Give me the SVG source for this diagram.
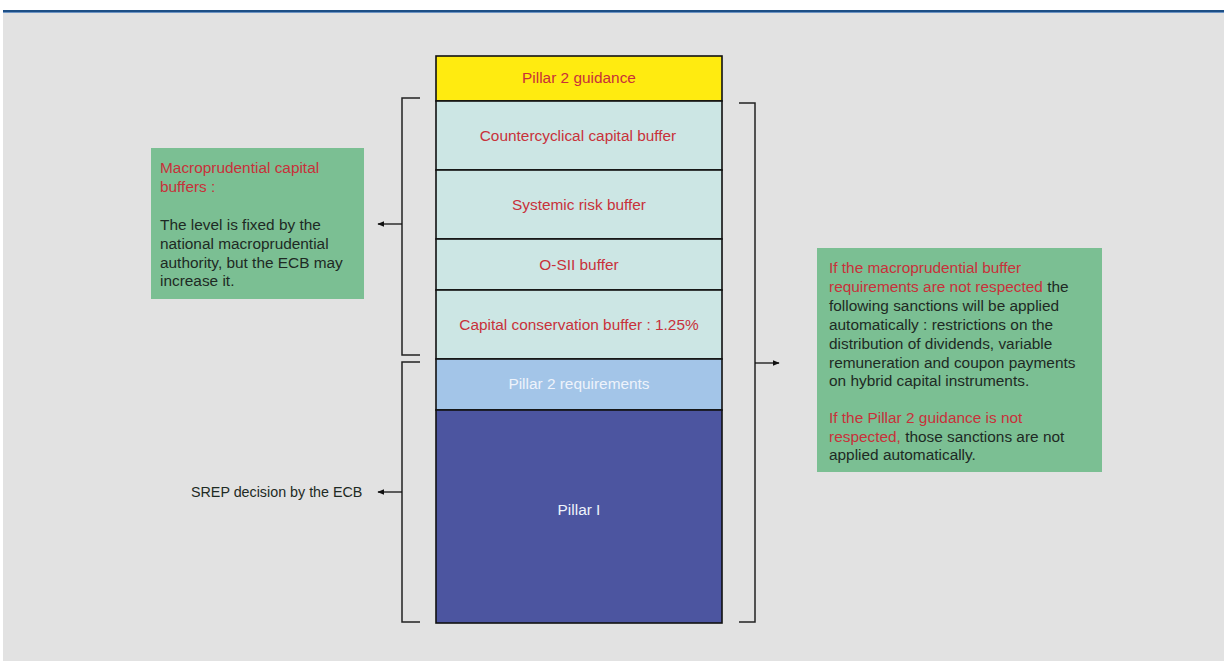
<svg xmlns="http://www.w3.org/2000/svg" width="1224" height="661" viewBox="0 0 1224 661">
<defs>
<marker id="ah" viewBox="0 0 10 10" refX="9" refY="5" markerWidth="7" markerHeight="7" markerUnits="userSpaceOnUse" orient="auto"><path d="M0,1 L10,5 L0,9 Z" fill="#111"/></marker>
<style>
text{font-family:"Liberation Sans","Noto Sans",sans-serif;font-size:15.4px}
.r{fill:#c8313a}
.k{fill:#1e2a24}
.w{fill:#eef3fb}
.c{text-anchor:middle}
.blk{stroke:#111;stroke-width:1.6}
.br{fill:none;stroke:#222;stroke-width:1.5}
.ar{stroke:#111;stroke-width:1.3;fill:none;marker-end:url(#ah)}
</style>
</defs>
<rect x="0" y="0" width="1224" height="661" fill="#fff"/>
<rect x="3" y="13" width="1221" height="648" fill="#e2e2e2"/>
<rect x="3" y="10" width="1221" height="2" fill="#1d4f86"/>
<rect x="3" y="12" width="1221" height="1" fill="#6d94c4"/>
<g id="stack">
<g id="pillar2guidance"><rect class="blk" x="436" y="56" width="286" height="45" fill="#ffeb10"/><text class="r c" x="579" y="83">Pillar 2 guidance</text></g>
<g id="ccb"><rect class="blk" x="436" y="101" width="286" height="69" fill="#cce6e4"/><text class="r c" x="578" y="141">Countercyclical capital buffer</text></g>
<g id="srb"><rect class="blk" x="436" y="170" width="286" height="69" fill="#cce6e4"/><text class="r c" x="579" y="210">Systemic risk buffer</text></g>
<g id="osii"><rect class="blk" x="436" y="239" width="286" height="51" fill="#cce6e4"/><text class="r c" x="579" y="270">O-SII buffer</text></g>
<g id="ccob"><rect class="blk" x="436" y="290" width="286" height="69" fill="#cce6e4"/><text class="r c" x="579" y="330">Capital conservation buffer : 1.25%</text></g>
<g id="p2r"><rect class="blk" x="436" y="359" width="286" height="51" fill="#a3c5e8"/><text class="w c" x="579" y="389">Pillar 2 requirements</text></g>
<g id="p1"><rect class="blk" x="436" y="410" width="286" height="213" fill="#4c55a0"/><text class="w c" x="579" y="515">Pillar I</text></g>
</g>
<g id="macro">
<rect x="151" y="148" width="213" height="151" fill="#7bbf93"/>
<text class="r" x="160" y="173">Macroprudential capital</text>
<text class="r" x="160" y="192">buffers :</text>
<text class="k" x="160" y="230">The level is fixed by the</text>
<text class="k" x="160" y="249">national macroprudential</text>
<text class="k" x="160" y="268">authority, but the ECB may</text>
<text class="k" x="160" y="286">increase it.</text>
</g>
<g id="srep"><text class="k" x="191" y="497" style="font-size:14.3px">SREP decision by the ECB</text></g>
<g id="sanctions">
<rect x="817" y="248" width="285" height="224" fill="#7bbf93"/>
<text class="r" x="829" y="273">If the macroprudential buffer</text>
<text x="829" y="292"><tspan class="r">requirements are not respected</tspan><tspan class="k"> the</tspan></text>
<text class="k" x="829" y="311">following sanctions will be applied</text>
<text class="k" x="829" y="330">automatically : restrictions on the</text>
<text class="k" x="829" y="349">distribution of dividends, variable</text>
<text class="k" x="829" y="368">remuneration and coupon payments</text>
<text class="k" x="829" y="386">on hybrid capital instruments.</text>
<text class="r" x="829" y="423">If the Pillar 2 guidance is not</text>
<text x="829" y="442"><tspan class="r">respected,</tspan><tspan class="k"> those sanctions are not</tspan></text>
<text class="k" x="829" y="460">applied automatically.</text>
</g>
<g id="connectors">
<path class="br" d="M420,98 H402 V355 H420"/>
<path class="br" d="M420,362 H402 V622 H420"/>
<path class="br" d="M739,103 H755 V622 H739"/>
<path class="ar" d="M402,224 H378"/>
<path class="ar" d="M402,492 H378"/>
<path class="ar" d="M755,363 H779"/>
</g>
</svg>
